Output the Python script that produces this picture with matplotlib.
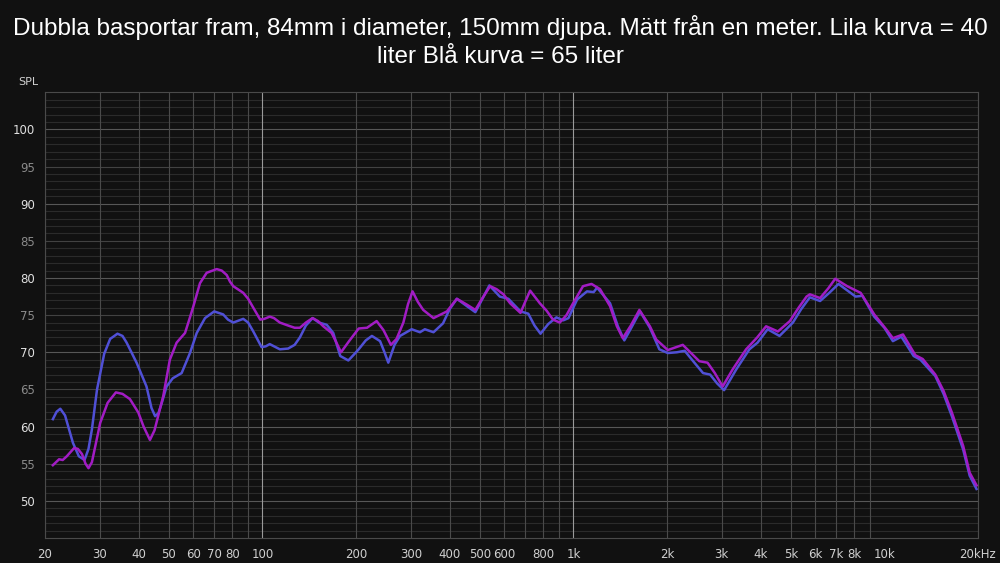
import numpy as np
import matplotlib.pyplot as plt

# Lila kurva = 40 liter
f_lila = [21.2, 22.2, 22.8, 23.5, 24.8, 25.5, 26.3, 27.0, 27.6, 28.3, 30.1, 31.8, 33.8, 35.5,
          37.5, 39.9, 41.5, 43.5, 45.0, 48.0, 50.4, 53.0, 56.4, 58.3, 60.0, 63.0, 66.2, 71.3,
          74.0, 76.8, 78.7, 80.6, 86.8, 90.0, 93.5, 98.4, 101.5, 105.6, 109, 113.8, 121, 127,
          132, 138, 145, 151, 157, 167, 173, 179, 190, 204, 217, 233, 245, 259, 270, 284, 294,
          304, 316, 329, 355, 392, 422, 455, 484, 510, 540, 566, 596, 626, 676, 700, 726, 780,
          820, 860, 904, 950, 998, 1074, 1144, 1218, 1312, 1380, 1442, 1530, 1630, 1762,
          1848, 2012, 2248, 2540, 2700, 2850, 3020, 3252, 3592, 3900, 4166, 4546, 4966, 5300,
          5620, 5760, 6212, 6600, 6950, 7590, 8390, 9276, 10132, 10650, 11480, 12580, 13280,
          14580, 15500, 16480, 17920, 18800, 19780]
db_lila = [54.8, 55.6, 55.5, 56.0, 57.1, 57.0, 56.3, 55.0, 54.4, 55.2, 60.5, 63.2, 64.6, 64.4,
           63.7, 61.9, 60.0, 58.2, 59.5, 64.1, 69.0, 71.3, 72.6, 74.5, 76.2, 79.3, 80.7, 81.2,
           81.0, 80.4, 79.5, 78.9, 78.0, 77.2, 76.0, 74.4, 74.5, 74.8, 74.6, 74.0, 73.6, 73.3,
           73.3, 74.0, 74.6, 74.2, 73.5, 72.6, 71.3, 70.0, 71.5, 73.2, 73.3, 74.2, 73.0, 71.0,
           71.8, 74.0, 76.5, 78.2, 76.8, 75.7, 74.6, 75.5, 77.2, 76.4, 75.7, 77.3, 78.9, 78.5,
           77.8, 76.6, 75.3, 76.8, 78.3, 76.6, 75.6, 74.4, 74.0, 75.0, 76.6, 78.9, 79.2, 78.5,
           76.2, 73.5, 71.9, 73.6, 75.7, 73.5, 71.7, 70.3, 71.0, 68.8, 68.6, 67.2, 65.4, 67.7,
           70.4, 72.0, 73.5, 72.8, 74.2, 76.0, 77.5, 77.8, 77.3, 78.6, 79.9, 78.9, 78.0, 75.1,
           73.1, 71.9, 72.4, 69.6, 69.1, 67.0, 64.8, 61.9, 57.4, 53.8, 52.1]

# Blå kurva = 65 liter
f_bla = [21.2, 21.8, 22.4, 23.2, 24.6, 25.7, 26.8, 27.6, 28.3, 29.4, 31.0, 32.4, 34.2, 35.5,
         36.6, 39.4, 42.4, 44.0, 45.2, 46.3, 47.5, 49.2, 51.5, 55.0, 58.5, 61.5, 65.4, 70.0,
         74.8, 77.5, 80.6, 86.8, 90.0, 93.5, 99.4, 102.5, 105.6, 113.8, 121, 127, 132, 138,
         145, 152, 161, 169, 178, 189, 196, 204, 215, 225, 239, 247, 254, 266, 277, 302, 321,
         333, 355, 381, 400, 422, 455, 484, 510, 537, 580, 618, 676, 716, 750, 784, 830, 882,
         928, 964, 1028, 1106, 1162, 1192, 1312, 1390, 1458, 1540, 1638, 1762, 1890, 2012,
         2150, 2280, 2450, 2612, 2752, 2900, 3052, 3340, 3680, 3910, 4214, 4600, 5080, 5400,
         5760, 6212, 6650, 7120, 8080, 8500, 9276, 10000, 10650, 11340, 12420, 13060, 14580,
         15500, 16480, 17920, 18800, 19780]
db_bla = [61.0, 62.0, 62.4, 61.5, 57.8, 56.0, 55.5, 57.0, 59.6, 65.0, 69.8, 71.8, 72.5, 72.2,
          71.3, 68.6, 65.4, 62.5, 61.4, 61.8, 63.2, 65.4, 66.5, 67.2, 69.9, 72.6, 74.6, 75.5,
          75.1, 74.4, 74.0, 74.5, 74.0, 72.8, 70.7, 70.8, 71.1, 70.4, 70.5, 71.0, 72.0, 73.6,
          74.6, 74.0, 73.7, 72.6, 69.5, 68.9, 69.6, 70.4, 71.6, 72.2, 71.5, 70.0, 68.6, 71.0,
          72.2, 73.1, 72.7, 73.1, 72.7, 73.9, 75.8, 77.2, 76.2, 75.4, 77.2, 79.0, 77.5, 77.2,
          75.5, 75.2, 73.6, 72.5, 73.8, 74.7, 74.3, 74.6, 77.1, 78.2, 78.1, 78.7, 76.6, 73.5,
          71.6, 73.4, 75.5, 73.3, 70.4, 69.9, 70.0, 70.2, 68.6, 67.2, 67.0, 65.8, 64.9, 67.7,
          70.4, 71.3, 73.1, 72.2, 74.0, 75.8, 77.4, 76.9, 78.0, 79.2, 77.5, 77.6, 74.8, 73.3,
          71.5, 72.1, 69.5, 69.0, 66.8, 64.4, 61.4, 56.9, 53.4, 51.6]

x_ticks = [20, 30, 40, 50, 60, 70, 80, 100, 200, 300, 400, 500, 600, 800,
           1000, 2000, 3000, 4000, 5000, 6000, 7000, 8000, 10000, 20000]
x_labels = ['20', '30', '40', '50', '60', '70', '80', '100', '200', '300', '400', '500', '600', '800',
            '1k', '2k', '3k', '4k', '5k', '6k', '7k', '8k', '10k', '20kHz']
y_ticks = [50, 55, 60, 65, 70, 75, 80, 85, 90, 95, 100]

bg = '#111111'
fig = plt.figure(figsize=(10, 5.63), dpi=100, facecolor=bg)
ax = fig.add_axes([0.045, 0.0444, 0.933, 0.7917], facecolor=bg)

ax.set_xscale('log')
ax.set_xlim(20, 20000)
ax.set_ylim(45, 105)

# horisontella rutnät
for v in range(46, 105):
    if v % 10 == 0:
        c = '#575757'
    elif v % 5 == 0:
        c = '#424242'
    else:
        c = '#2b2b2b'
    ax.axhline(v, color=c, lw=0.8, zorder=0)

# vertikala rutnät
grid_f = [f * d for d in (10, 100, 1000) for f in range(1, 10)] + [20000]
for f in grid_f:
    if f < 20 or f > 20000:
        continue
    c = '#9a9a9a' if f in (100, 1000, 10000) else '#4a4a4a'
    ax.axvline(f, color=c, lw=0.8, zorder=0)

ax.plot(f_bla, db_bla, color='#5050d6', lw=1.8, zorder=3, solid_joinstyle='round')
ax.plot(f_lila, db_lila, color='#a21cc4', lw=1.8, zorder=4, solid_joinstyle='round')

ax.set_xticks(x_ticks)
ax.set_xticklabels(x_labels)
ax.xaxis.set_minor_locator(plt.NullLocator())
ax.set_yticks(y_ticks)
ax.tick_params(axis='both', length=0, labelsize=8.5, colors='#d0d0d0', pad=7)
for lbl, v in zip(ax.get_yticklabels(), y_ticks):
    lbl.set_color('#e0e0e0' if v % 10 == 0 else '#8a8a8a')

for s in ax.spines.values():
    s.set_color('#4a4a4a')
    s.set_linewidth(0.8)

fig.text(0.028, 0.855, 'SPL', color='#d0d0d0', fontsize=8, ha='center', va='center')

fig.suptitle('Dubbla basportar fram, 84mm i diameter, 150mm djupa. Mätt från en meter. Lila kurva = 40\n'
             'liter Blå kurva = 65 liter',
             color='white', fontsize=17.5, family='Liberation Sans', y=0.973, linespacing=1.35)

fig.savefig('out.png', dpi=100, facecolor=bg)
